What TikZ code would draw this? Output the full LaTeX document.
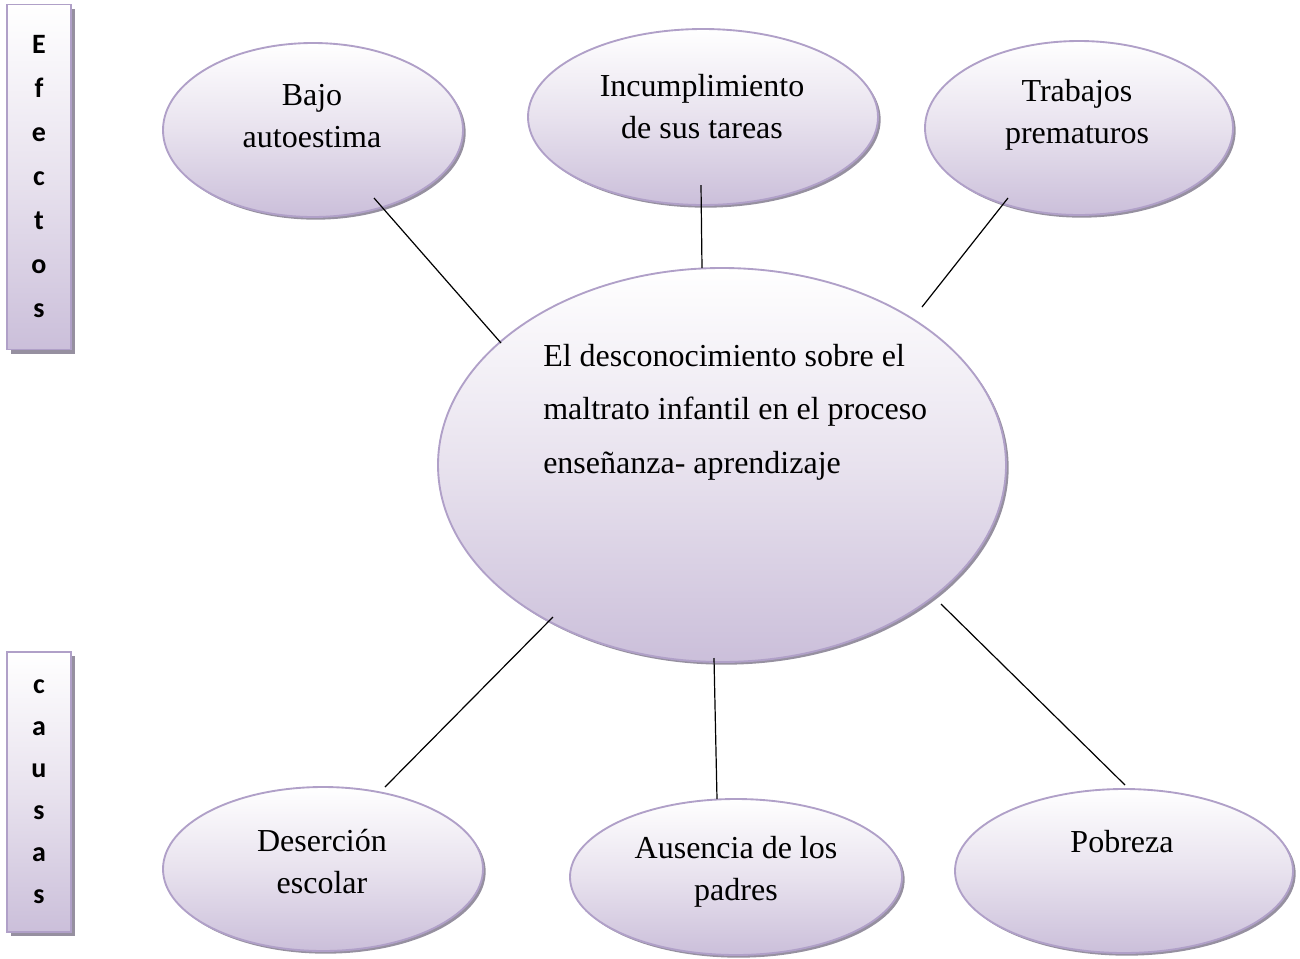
\documentclass[tikz,border=0pt]{standalone}
\usepackage{fontspec}
\setmainfont{Liberation Serif}
\newfontfamily\boxfont{Carlito}[BoldFont={Carlito Bold}]
\usetikzlibrary{shapes.geometric,shadows}
\definecolor{lav}{RGB}{203,191,218}
\definecolor{lavmid}{RGB}{232,226,238}
\definecolor{bordercol}{RGB}{176,160,200}
\definecolor{shadowcol}{RGB}{150,144,160}
\tikzset{
  oval/.style 2 args={ellipse, draw=bordercol, line width=1.4pt, inner sep=0pt,
    top color=white, bottom color=lav, middle color=lavmid,
    minimum width=#1*1.5pt, minimum height=#2*1.5pt,
    drop shadow={shadow xshift=2pt, shadow yshift=-2pt, fill=shadowcol, opacity=1}},
  sidebox/.style 2 args={rectangle, draw=bordercol, line width=1.4pt, inner sep=0pt,
    top color=white, bottom color=lav, middle color=lavmid,
    minimum width=#1*0.75pt, minimum height=#2*0.75pt,
    drop shadow={shadow xshift=3pt, shadow yshift=-3pt, fill=shadowcol, opacity=1}},
  lbl/.style={align=center, inner sep=0pt, font=\rmfamily\fontsize{24}{31.5}\selectfont},
  conn/.style={draw=black, line width=0.9pt}
}
\newcommand\lettersA{\boxfont\bfseries\fontsize{21}{33}\selectfont}
\newcommand\lettersB{\boxfont\bfseries\fontsize{21}{31.5}\selectfont}
\begin{document}
\begin{tikzpicture}[x=0.75pt,y=-0.75pt]
\useasboundingbox (0,0) rectangle (1300,958);

% side boxes
\node[sidebox={64}{345}, align=center, font=\lettersA] (efectos) at (39,177)
  {E\\f\\e\\c\\t\\o\\s};
\node[sidebox={64}{280}, align=center, font=\lettersB] (causas) at (39,792)
  {c\\a\\u\\s\\a\\s};

% ellipses
\node[oval={150}{87}] (bajo) at (313,130) {};
\node[oval={175}{88}] (incum) at (703,117) {};
\node[oval={154}{87}] (trab) at (1079,128) {};
\node[oval={284}{197}] (centro) at (722,465) {};
\node[oval={160}{82}] (deser) at (323,869) {};
\node[oval={166}{78}] (ausen) at (736,877) {};
\node[oval={169}{82}] (pobre) at (1124,871) {};

% labels
\node[lbl] (bajoT) at (312,116) {Bajo\\autoestima};
\node[lbl] (incumT) at (702,107) {Incumplimiento\\de sus tareas};
\node[lbl] (trabT) at (1077,115) {Trabajos\\prematuros};
\node[lbl, align=left, anchor=west, font=\rmfamily\fontsize{24}{40}\selectfont] (centroT) at (543,412)
  {El desconocimiento sobre el\\maltrato infantil en el proceso\\enseñanza- aprendizaje};
\node[lbl] (deserT) at (322,862) {Deserción\\escolar};
\node[lbl] (ausenT) at (736,872) {Ausencia de los\\padres};
\node[lbl] (pobreT) at (1122,842) {Pobreza};

% connector ends
\coordinate (c1a) at (374,198); \coordinate (c1b) at (501,343);
\coordinate (c2a) at (701,185); \coordinate (c2b) at (702,268);
\coordinate (c3a) at (1008,198); \coordinate (c3b) at (922,307);
\coordinate (c4a) at (553,617); \coordinate (c4b) at (385,787);
\coordinate (c5a) at (714,658); \coordinate (c5b) at (717,799);
\coordinate (c6a) at (941,604); \coordinate (c6b) at (1125,785);

\draw[conn] (c1a) -- (c1b);
\draw[conn] (c2a) -- (c2b);
\draw[conn] (c3a) -- (c3b);
\draw[conn] (c4a) -- (c4b);
\draw[conn] (c5a) -- (c5b);
\draw[conn] (c6a) -- (c6b);
\end{tikzpicture}
\end{document}
